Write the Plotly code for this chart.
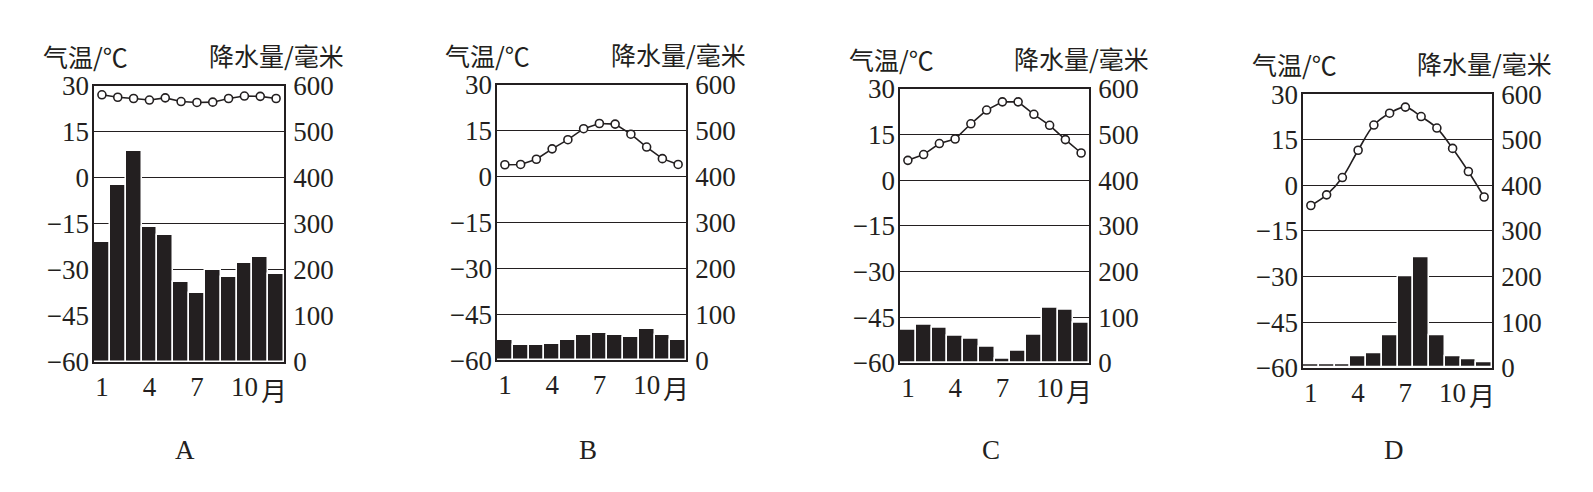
import plotly.graph_objects as go

# Month axis and tick labels
months = list(range(1, 13))
month_ticks = [1, 4, 7, 10]
temp_ticks = [30, 15, 0, -15, -30, -45, -60]
temp_labels = ["30", "15", "0", "−15", "−30", "−45", "−60"]
rain_ticks = [0, 100, 200, 300, 400, 500, 600]
panel_names = ["A", "B", "C", "D"]

# Monthly mean temperature (°C) and precipitation (mm)
temp_a = [27.1, 26.3, 25.9, 25.4, 26.1, 24.9, 24.6, 24.7, 25.9, 26.7, 26.6, 25.9]
rain_a = [262, 385, 459, 294, 277, 175, 150, 200, 185, 216, 228, 192]

temp_b = [3.9, 4.0, 5.7, 9.1, 12.1, 15.7, 17.4, 17.2, 13.9, 9.7, 5.9, 4.0]
rain_b = [43, 33, 33, 36, 43, 54, 60, 54, 50, 67, 54, 45]

temp_c = [6.5, 8.4, 12.0, 13.5, 18.5, 23.0, 25.7, 25.7, 21.6, 18.0, 13.3, 8.9]
rain_c = [72, 84, 78, 60, 53, 36, 10, 27, 62, 120, 117, 89]

temp_d = [-6.6, -3.1, 2.6, 11.6, 19.9, 23.8, 25.8, 22.7, 18.9, 12.2, 4.6, -3.8]
rain_d = [7, 7, 7, 24, 32, 70, 201, 242, 70, 25, 19, 12]

temps = [temp_a, temp_b, temp_c, temp_d]
rains = [rain_a, rain_b, rain_c, rain_d]

W, H = 1593, 492
# plot boxes in pixels: left, right, top, bottom
boxes = [(86, 276, 67, 361), (489, 678, 66, 359), (892, 1081, 70, 362), (1295, 1484, 76, 367)]

INK = "#231f20"
serif = "Liberation Serif, Times New Roman, serif"
cjk = "Noto Sans CJK SC, sans-serif"

fig = go.Figure()
layout = {}
annotations = []


def label(text, px, py, font, size):
    return dict(text=text, x=px / W, y=1 - py / H, xref="paper", yref="paper",
                xanchor="center", yanchor="middle", showarrow=False,
                font=dict(family=font, size=size, color=INK))


for i, (x0, x1, y0, y1) in enumerate(boxes):
    xs = "" if i == 0 else str(i + 1)
    yr = "" if i == 0 else str(2 * i + 1)   # precipitation axis (base)
    yt = str(2 * i + 2)                     # temperature axis (overlay)

    fig.add_trace(go.Bar(
        x=months, y=rains[i], xaxis="x" + xs, yaxis="y" + yr,
        marker=dict(color=INK, line=dict(color="white", width=1.5)),
        showlegend=False,
    ))
    fig.add_trace(go.Scatter(
        x=months, y=temps[i], xaxis="x" + xs, yaxis="y" + yt,
        mode="lines+markers",
        line=dict(color=INK, width=1.6, shape="spline" if i == 3 else "linear"),
        marker=dict(symbol="circle", size=8, color="white", line=dict(color=INK, width=1.6)),
        showlegend=False,
    ))

    xdom = [x0 / W, x1 / W]
    ydom = [1 - y1 / H, 1 - y0 / H]

    layout["xaxis" + xs] = dict(
        domain=xdom, anchor="y" + yr, range=[0.5, 12.5],
        tickvals=month_ticks, ticks="", showgrid=False, zeroline=False,
        showline=True, mirror=True, linecolor=INK, linewidth=1.6,
        tickfont=dict(family=serif, size=27, color=INK),
    )
    layout["yaxis" + yr] = dict(
        domain=ydom, anchor="x" + xs, side="right", range=[0, 600],
        tickvals=rain_ticks, ticks="", showgrid=True, gridcolor=INK, gridwidth=1.4,
        zeroline=False, showline=True, mirror=True, linecolor=INK, linewidth=1.6,
        tickfont=dict(family=serif, size=27, color=INK), ticklabelstandoff=2,
    )
    layout["yaxis" + yt] = dict(
        overlaying="y" + yr, anchor="x" + xs, side="left", range=[-60, 30],
        tickvals=temp_ticks, ticktext=temp_labels, ticks="", showgrid=False,
        zeroline=False, showline=False,
        tickfont=dict(family=serif, size=27, color=INK), ticklabelstandoff=4,
    )

    annotations += [
        label("气温/℃", x0 - 9, y0 - 32, cjk, 25),
        label("降水量/毫米", x1 - 8, y0 - 33, cjk, 25),
        label("月", x1 - 10, y1 + 29, cjk, 26),
        label(panel_names[i], (x0 + x1) / 2 - 4, 455, serif, 27),
    ]

fig.update_layout(
    width=W, height=H, margin=dict(l=0, r=0, t=0, b=0),
    paper_bgcolor="white", plot_bgcolor="white",
    bargap=0, annotations=annotations, **layout,
)

fig.write_html("out.html")
